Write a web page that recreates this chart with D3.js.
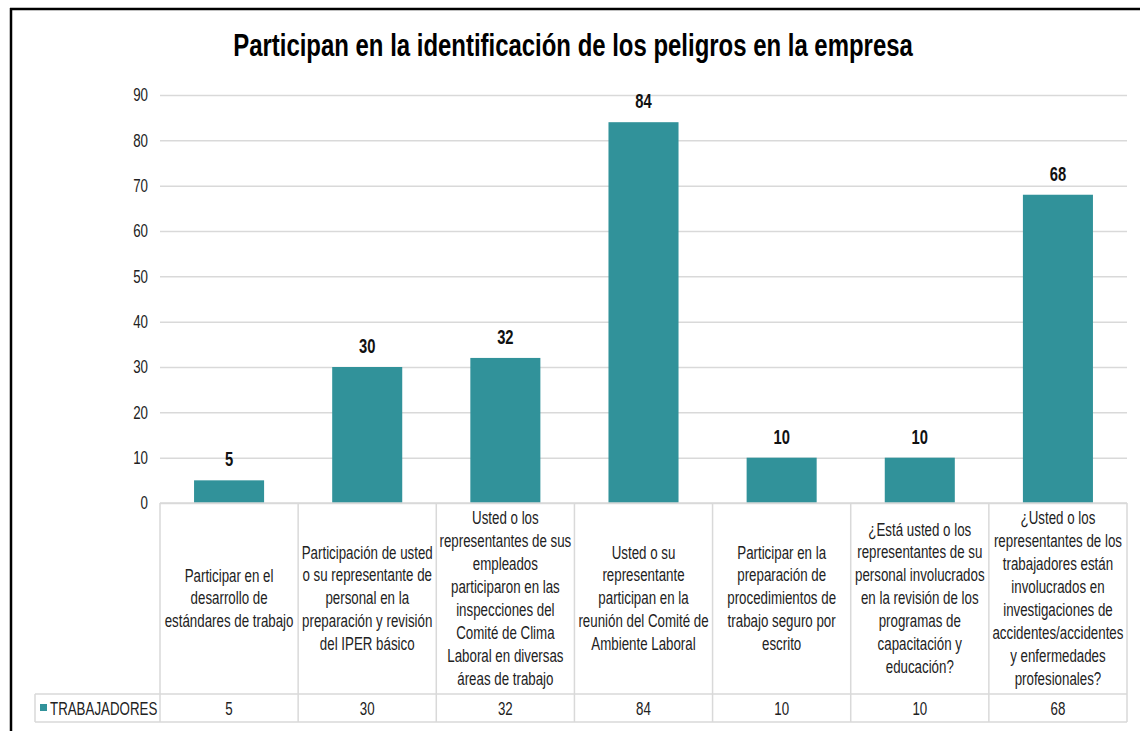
<!DOCTYPE html>
<html>
<head>
<meta charset="utf-8">
<script src="https://d3js.org/d3.v7.min.js"></script>
<style>
  body { margin: 0; background: #fff; }
  text { font-family: "Liberation Sans", Arial, sans-serif; }
</style>
</head>
<body>
<svg id="chart" width="1140" height="731"></svg>
<script>
const title = "Participan en la identificación de los peligros en la empresa";
const seriesName = "TRABAJADORES";
const categories = [
  ["Participar en el", "desarrollo de", "estándares de trabajo"],
  ["Participación de usted", "o su representante de", "personal en la", "preparación y revisión", "del IPER básico"],
  ["Usted o los", "representantes de sus", "empleados", "participaron en las", "inspecciones del", "Comité de Clima", "Laboral en diversas", "áreas de trabajo"],
  ["Usted o su", "representante", "participan en la", "reunión del Comité de", "Ambiente Laboral"],
  ["Participar en la", "preparación de", "procedimientos de", "trabajo seguro por", "escrito"],
  ["¿Está usted o los", "representantes de su", "personal involucrados", "en la revisión de los", "programas de", "capacitación y", "educación?"],
  ["¿Usted o los", "representantes de los", "trabajadores están", "involucrados en", "investigaciones de", "accidentes/accidentes", "y enfermedades", "profesionales?"]
];
const values = [5, 30, 32, 84, 10, 10, 68];
const yTicks = [0, 10, 20, 30, 40, 50, 60, 70, 80, 90];

const svg = d3.select("#chart");
const barColor = "#31929a";
const gridColor = "#d9d9d9";
const textColor = "#222";
const squeeze = 0.72; // the original text is tall and condensed

// places a text at (px,py) squeezed horizontally
function narrowAt(sel, px, py, k) {
  return sel.attr("x", 0).attr("y", 0)
    .attr("transform", `translate(${px},${py}) scale(${k || squeeze},1)`);
}

// frame
svg.append("line").attr("x1", 10).attr("x2", 1140).attr("y1", 9).attr("y2", 9)
  .attr("stroke", "#000").attr("stroke-width", 2.5);
svg.append("line").attr("x1", 11).attr("x2", 11).attr("y1", 8).attr("y2", 731)
  .attr("stroke", "#000").attr("stroke-width", 2.5);

narrowAt(svg.append("text"), 573, 56, 0.785).attr("text-anchor", "middle")
  .style("font-size", "30.5px").style("font-weight", "bold").attr("fill", "#000")
  .text(title);

const plotLeft = 160, plotRight = 1127, plotTop = 95, plotBottom = 503;
const x = d3.scaleBand().domain(d3.range(categories.length)).range([plotLeft, plotRight]).paddingInner(0).paddingOuter(0);
const y = d3.scaleLinear().domain([0, 90]).range([plotBottom, plotTop]);

// gridlines + tick labels
const yAxis = d3.axisLeft(y).tickValues(yTicks).tickSize(-(plotRight - plotLeft)).tickPadding(12);
const gy = svg.append("g").attr("transform", `translate(${plotLeft},0)`).call(yAxis);
gy.select(".domain").remove();
gy.selectAll(".tick line").attr("stroke", gridColor).attr("stroke-width", 1.5);
gy.selectAll(".tick text").style("font-size", "18.5px").attr("fill", textColor)
  .attr("font-family", null)
  .attr("transform", `translate(-12,0) scale(${squeeze},1)`).attr("x", 0);

// bars
const bw = x.bandwidth() * 0.507;
svg.selectAll("rect.bar").data(values).join("rect").attr("class", "bar")
  .attr("x", (d, i) => x(i) + (x.bandwidth() - bw) / 2)
  .attr("width", bw)
  .attr("y", d => y(d))
  .attr("height", d => y(0) - y(d))
  .attr("fill", barColor);

svg.selectAll("text.lbl").data(values).join("text").attr("class", "lbl")
  .each(function (d, i) { narrowAt(d3.select(this), x(i) + x.bandwidth() / 2, y(d) - 14); })
  .attr("text-anchor", "middle")
  .style("font-size", "20.5px").style("font-weight", "bold").attr("fill", "#111")
  .text(d => d);

// data table
const rowTop = plotBottom, rowMid = 694, rowBot = 722, legLeft = 35;
const t = svg.append("g").attr("stroke", gridColor).attr("stroke-width", 1.5);
t.append("line").attr("x1", plotLeft).attr("x2", plotRight).attr("y1", rowTop).attr("y2", rowTop);
t.append("line").attr("x1", legLeft).attr("x2", plotRight).attr("y1", rowMid).attr("y2", rowMid);
t.append("line").attr("x1", legLeft).attr("x2", plotRight).attr("y1", rowBot).attr("y2", rowBot);
t.append("line").attr("x1", legLeft).attr("x2", legLeft).attr("y1", rowMid).attr("y2", rowBot);
x.domain().concat([categories.length]).forEach(i => {
  const xx = i < categories.length ? x(i) : plotRight;
  t.append("line").attr("x1", xx).attr("x2", xx).attr("y1", rowTop).attr("y2", rowBot);
});

const lh = 23, midY = (rowTop + rowMid) / 2;
categories.forEach((lines, i) => {
  const y0 = midY - (lines.length - 1) * lh / 2 + 6;
  const tx = narrowAt(svg.append("text"), x(i) + x.bandwidth() / 2, y0)
    .attr("text-anchor", "middle").style("font-size", "18.5px").attr("fill", textColor);
  lines.forEach((ln, k) => {
    tx.append("tspan").attr("x", 0).attr("y", k * lh).text(ln);
  });
});

const valY = (rowMid + rowBot) / 2 + 7;
svg.selectAll("text.val").data(values).join("text").attr("class", "val")
  .each(function (d, i) { narrowAt(d3.select(this), x(i) + x.bandwidth() / 2, valY); })
  .attr("text-anchor", "middle")
  .style("font-size", "18.5px").attr("fill", textColor)
  .text(d => d);

svg.append("rect").attr("x", 40).attr("y", 704).attr("width", 7).attr("height", 7).attr("fill", barColor);
narrowAt(svg.append("text"), 50, valY)
  .style("font-size", "18.5px").attr("fill", textColor).text(seriesName);
</script>
</body>
</html>
